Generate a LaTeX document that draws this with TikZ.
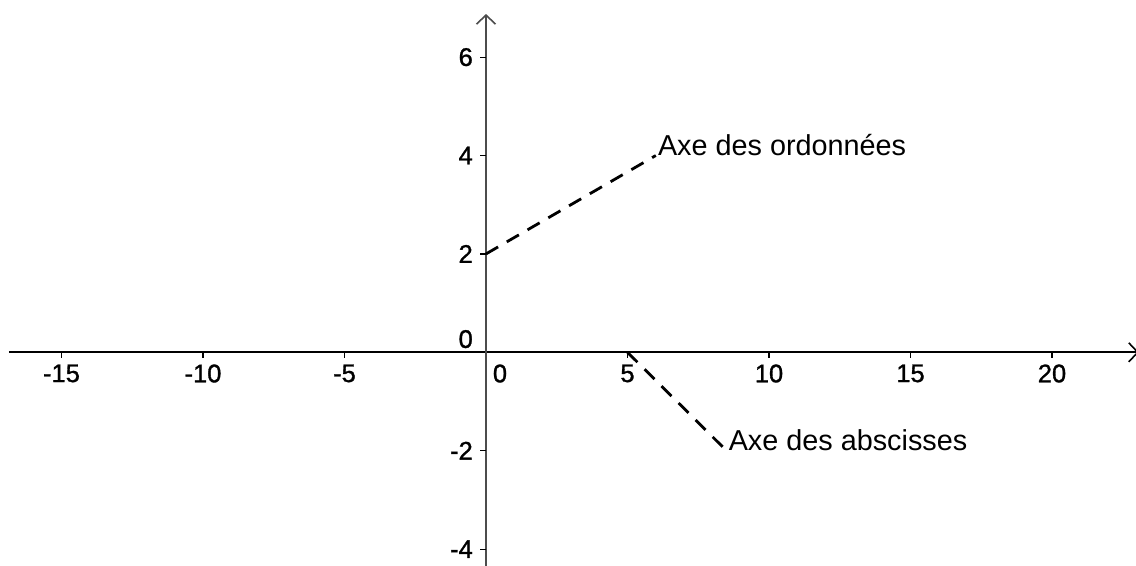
\documentclass[tikz,border=0pt]{standalone}
\usepackage{fontspec}
\setmainfont{Liberation Sans}
\newfontfamily\tickfont[FakeBold=1.2]{Liberation Sans}
\usetikzlibrary{arrows.meta}
\begin{document}
\begin{tikzpicture}[x=28.3pt,y=49.2pt,
  axisx/.style={line width=1.8pt, black},
  axisy/.style={line width=2.2pt, black!70},
  tickmark/.style={line width=1.2pt},
  ticklab/.style={font=\tickfont\fontsize{25.5}{25.5}\selectfont, inner sep=0pt},
  helper/.style={line width=2.8pt, dash pattern=on 14pt off 10pt},
  axlabel/.style={font=\fontsize{28.8}{28.8}\selectfont, anchor=base west, inner xsep=2pt, inner ysep=0pt},
  barb/.style={-{Straight Barb[length=9pt,width=19pt,line width=1.6pt]}}]
\useasboundingbox (-17.173,-4.343) rectangle (22.968,7.161);
\fill[white] (-17.173,-4.343) rectangle (22.968,7.161);
% axes
\coordinate (xmin) at (-16.855,0);
\coordinate (xmax) at (23.07,0);
\coordinate (ymin) at (0,-4.5);
\coordinate (ymax) at (0,6.876);
\draw[axisx,barb] (xmin) -- (xmax);
\draw[axisy,barb] (ymin) -- (ymax);
% ticks
\foreach \x in {-15,-10,-5,5,10,15,20}{
  \draw[tickmark] (\x,0) -- ++(0,-6pt);
  \node[ticklab, anchor=north] (tx\x) at ([yshift=-12pt]\x,0) {\x};
}
\foreach \y in {-4,-2,2,4,6}{
  \draw[tickmark] (0,\y) -- ++(-6pt,0);
  \node[ticklab, anchor=east] (ty\y) at ([xshift=-13pt]0,\y) {\y};
}
\node[ticklab, anchor=north] (tx0) at ([xshift=14pt,yshift=-12pt]0,0) {0};
\node[ticklab, anchor=south east] (ty0) at ([xshift=-13pt,yshift=4pt]0,0) {0};
% helper lines and labels
\coordinate (A1) at (0,2);
\coordinate (B1) at (6,4);
\node[axlabel] (lord) at (B1) {Axe des ordonnées};
\draw[helper] (A1) -- (B1);
\coordinate (A2) at (5,0);
\coordinate (B2) at (8.5,-2);
\node[axlabel] (labs) at (B2) {Axe des abscisses};
\draw[helper] (A2) -- (B2);
\end{tikzpicture}
\end{document}
